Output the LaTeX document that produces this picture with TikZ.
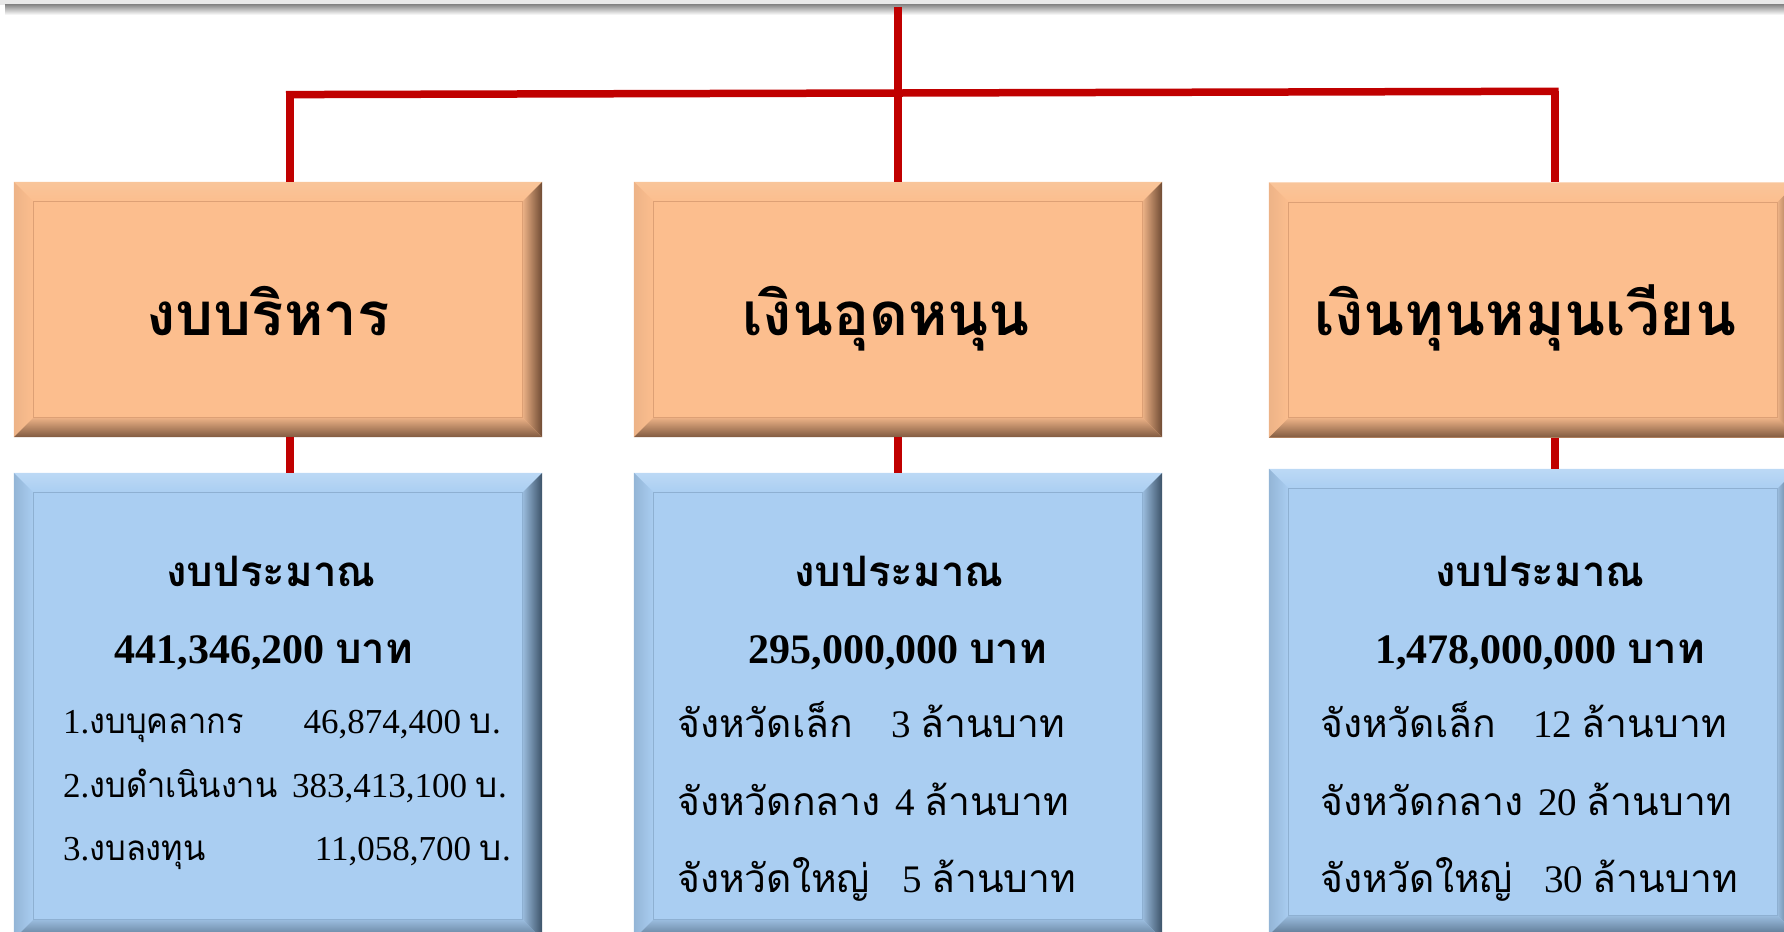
\documentclass[tikz,border=0pt]{standalone}
\usepackage{fontspec}
\setmainfont{Liberation Serif}
\newfontfamily\thaifont[Script=Thai]{Loma}
\newfontfamily\thaicond[Script=Thai, FakeStretch=0.93]{Loma}
\newcommand\thx[1]{{\thaifont #1}}
\newcommand\thc[1]{{\thaicond #1}}
\definecolor{myred}{HTML}{C00000}
% orange bevel colours
\definecolor{orbase}{HTML}{FCBE8E}
\definecolor{ortop}{HTML}{F9C59A}
\definecolor{orhi}{HTML}{FFE8C2}
\definecolor{orleft}{HTML}{EDB387}
\definecolor{orin}{HTML}{EFB488}
\definecolor{ordark}{HTML}{6E4A33}
\definecolor{orbot}{HTML}{805A40}
\definecolor{orline}{HTML}{DDA075}
% blue bevel colours
\definecolor{blbase}{HTML}{AACEF2}
\definecolor{bltop}{HTML}{BCD9F5}
\definecolor{blhi}{HTML}{E6F4FF}
\definecolor{blleft}{HTML}{93B5D6}
\definecolor{blin}{HTML}{9CBEE0}
\definecolor{bldark}{HTML}{3C5268}
\definecolor{blbot}{HTML}{5B7690}
\definecolor{blline}{HTML}{8EB0D2}
\newcommand\bevelgen[2]{%
  \shade[top color=#2top, middle color=#2hi, bottom color=#2base]
    (#1.north west) -- (#1.north east) -- ([shift={(-20,20)}]#1.north east) -- ([shift={(20,20)}]#1.north west) -- cycle;
  \shade[left color=#2left, right color=#2base]
    (#1.north west) -- ([shift={(20,20)}]#1.north west) -- ([shift={(20,-20)}]#1.south west) -- (#1.south west) -- cycle;
  \shade[left color=#2in, right color=#2dark]
    (#1.north east) -- (#1.south east) -- ([shift={(-20,-20)}]#1.south east) -- ([shift={(-20,20)}]#1.north east) -- cycle;
  \shade[top color=#2in, bottom color=#2bot]
    (#1.south west) -- ([shift={(20,-20)}]#1.south west) -- ([shift={(-20,-20)}]#1.south east) -- (#1.south east) -- cycle;
  \draw[#2line, line width=1.2pt] ([shift={(20,20)}]#1.north west) rectangle ([shift={(-20,-20)}]#1.south east);
}
\tikzset{
  conn/.style={draw=myred, line width=8pt},
  hbar/.style={draw=myred, line width=7.5pt},
  obox/.style={rectangle, minimum width=528pt, minimum height=255pt, fill=orbase, inner sep=0pt},
  bbox/.style={rectangle, minimum width=528pt, minimum height=466pt, fill=blbase, inner sep=0pt},
  title/.style={anchor=base, inner sep=0pt, font=\thaifont\bfseries\fontsize{60}{60}\selectfont},
  head/.style={anchor=base, inner sep=0pt, font=\bfseries\fontsize{42}{42}\selectfont},
  labA/.style={anchor=base west, inner sep=0pt, font=\fontsize{35}{35}\selectfont},
  amtA/.style={anchor=base east, inner sep=0pt, font=\fontsize{35}{35}\selectfont},
  labB/.style={anchor=base west, inner sep=0pt, font=\fontsize{39}{39}\selectfont},
}
\begin{document}
\begin{tikzpicture}[x=1pt, y=-1pt]
\useasboundingbox (0,0) rectangle (1784,931);
\clip (0,0) rectangle (1784,931);
% top band
\fill[black!9] (0,0) rectangle (1784,5);
\shade[top color=black!45, bottom color=white] (5,5) rectangle (1784,15);
% boxes
\node[obox] (o1) at (278,309.5) {};
\node[obox] (o2) at (898,309.5) {};
\node[obox] (o3) at (1533,310) {};
\node[bbox] (b1) at (278,706) {};
\node[bbox] (b2) at (898,706) {};
\node[bbox] (b3) at (1533,702) {};
\bevelgen{o1}{or}\bevelgen{o2}{or}\bevelgen{o3}{or}
\bevelgen{b1}{bl}\bevelgen{b2}{bl}\bevelgen{b3}{bl}
% connectors
\coordinate (top) at (898,7);
\coordinate (j1) at (290,94.6);
\coordinate (j3) at (1554.5,91.3);
\coordinate (barL) at (286,94.6);
\coordinate (barR) at (1558.5,91.3);
\draw[hbar] (barL) -- (barR);
\draw[conn] (top) -- (o2.north);
\draw[conn] (j1) -- (o1.north -| j1);
\draw[conn] (j3) -- (o3.north -| j3);
\draw[conn] (o1.south -| j1) -- (b1.north -| j1);
\draw[conn] (o2.south) -- (b2.north);
\draw[conn] (o3.south -| j3) -- (b3.north -| j3);
% titles
\node[title] (t1) at (268,335) {งบบริหาร};
\node[title] (t2) at (886,335) {เงินอุดหนุน};
\node[title] (t3) at (1525,335) {เงินทุนหมุนเวียน};
% box 1
\node[head] (h1) at (271,586) {\thx{งบประมาณ}};
\node[head] (s1) at (264,663) {441,346,200 \thx{บาท}};
\node[labA] (l11) at (63,733) {1.\thc{งบบุคลากร}};
\node[amtA] (a11) at (501,733) {46,874,400 \thx{บ}.};
\node[labA] (l12) at (63,797) {2.\thc{งบดำเนินงาน}};
\node[amtA] (a12) at (507,797) {383,413,100 \thx{บ}.};
\node[labA] (l13) at (63,860) {3.\thc{งบลงทุน}};
\node[amtA] (a13) at (511,860) {11,058,700 \thx{บ}.};
% box 2
\node[head] (h2) at (899,586) {\thx{งบประมาณ}};
\node[head] (s2) at (898,663) {295,000,000 \thx{บาท}};
\node[labB] (l21) at (677,737) {\thx{จังหวัดเล็ก}};
\node[labB] (a21) at (891,737) {3 \thx{ล้านบาท}};
\node[labB] (l22) at (677,815) {\thx{จังหวัดกลาง}};
\node[labB] (a22) at (895,815) {4 \thx{ล้านบาท}};
\node[labB] (l23) at (677,892) {\thx{จังหวัดใหญ่}};
\node[labB] (a23) at (902,892) {5 \thx{ล้านบาท}};
% box 3
\node[head] (h3) at (1540,586) {\thx{งบประมาณ}};
\node[head] (s3) at (1540,663) {1,478,000,000 \thx{บาท}};
\node[labB] (l31) at (1320,737) {\thx{จังหวัดเล็ก}};
\node[labB] (a31) at (1533,737) {12 \thx{ล้านบาท}};
\node[labB] (l32) at (1320,815) {\thx{จังหวัดกลาง}};
\node[labB] (a32) at (1538,815) {20 \thx{ล้านบาท}};
\node[labB] (l33) at (1320,892) {\thx{จังหวัดใหญ่}};
\node[labB] (a33) at (1544,892) {30 \thx{ล้านบาท}};
\end{tikzpicture}
\end{document}
